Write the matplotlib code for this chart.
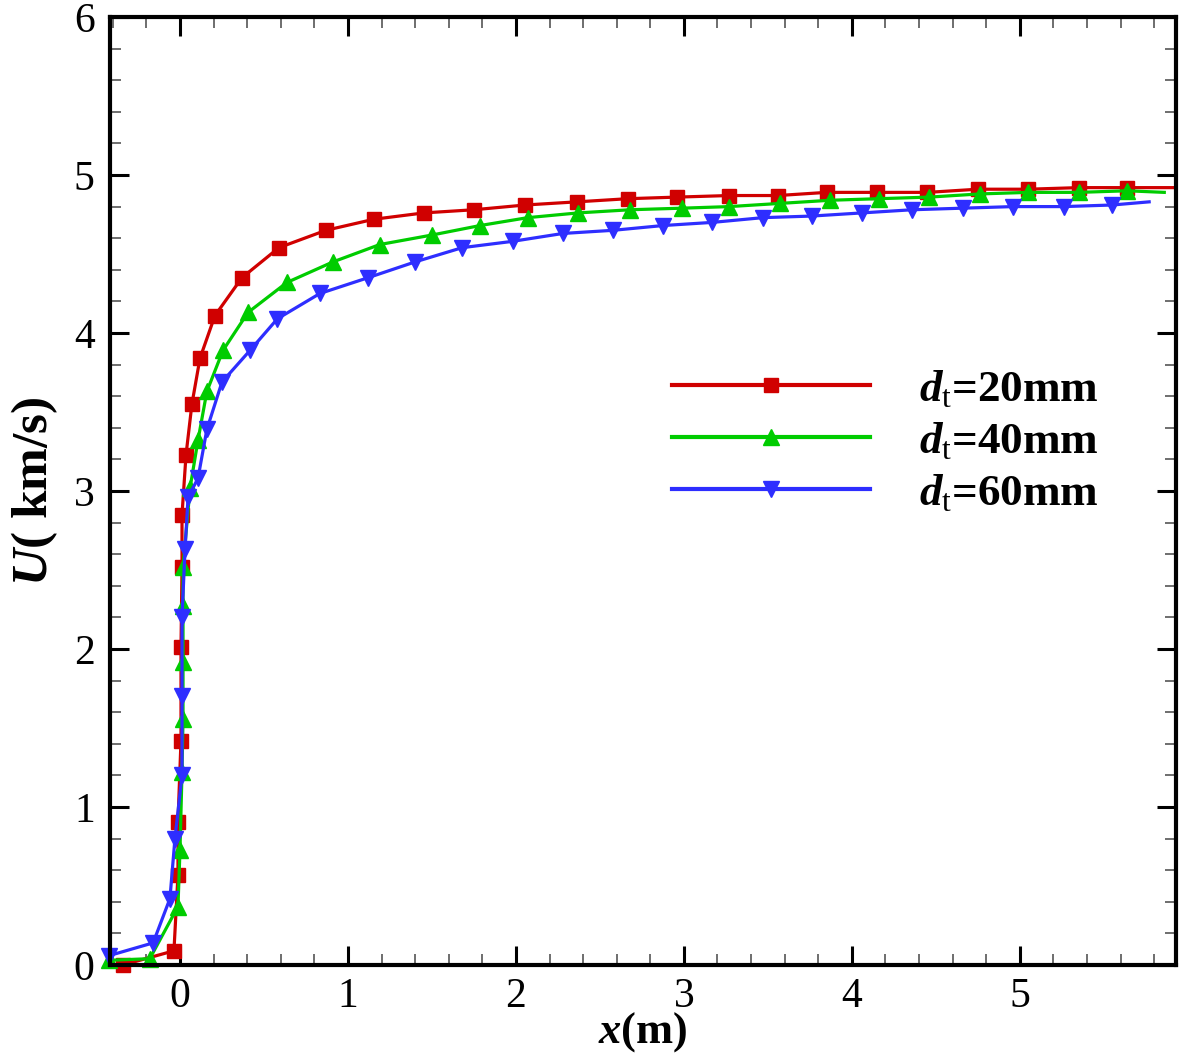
import matplotlib
matplotlib.use("Agg")
import matplotlib.pyplot as plt
from matplotlib.ticker import MultipleLocator

plt.rcParams['font.family'] = 'Liberation Serif'
plt.rcParams['mathtext.fontset'] = 'custom'
plt.rcParams['mathtext.rm'] = 'Liberation Serif'
plt.rcParams['mathtext.it'] = 'Liberation Serif:italic:bold'
plt.rcParams['mathtext.bf'] = 'Liberation Serif:bold'

# d_t = 20 mm (red squares)
x_20 = [-0.34, -0.036, -0.012, -0.012, 0.006, 0.006, 0.012, 0.012, 0.036, 0.071,
        0.119, 0.208, 0.369, 0.589, 0.869, 1.155, 1.452, 1.75, 2.054, 2.363,
        2.667, 2.958, 3.27, 3.56, 3.85, 4.15, 4.45, 4.75, 5.05, 5.35, 5.64, 5.93]
u_20 = [0.0, 0.09, 0.57, 0.905, 1.42, 2.01, 2.52, 2.85, 3.23, 3.55,
        3.84, 4.11, 4.35, 4.54, 4.65, 4.72, 4.76, 4.78, 4.81, 4.83,
        4.85, 4.86, 4.87, 4.87, 4.89, 4.89, 4.89, 4.91, 4.91, 4.92, 4.92, 4.92]

# d_t = 40 mm (green triangles)
x_40 = [-0.42, -0.18, -0.012, 0.0, 0.012, 0.018, 0.018, 0.018, 0.018, 0.06,
        0.107, 0.16, 0.256, 0.405, 0.637, 0.911, 1.19, 1.5, 1.786, 2.07,
        2.37, 2.68, 2.99, 3.27, 3.57, 3.87, 4.16, 4.46, 4.76, 5.05, 5.35, 5.64, 5.86]
u_40 = [0.03, 0.04, 0.37, 0.73, 1.22, 1.56, 1.92, 2.27, 2.52, 3.02,
        3.32, 3.63, 3.89, 4.13, 4.32, 4.45, 4.56, 4.62, 4.68, 4.73,
        4.76, 4.78, 4.79, 4.80, 4.82, 4.84, 4.85, 4.86, 4.88, 4.89, 4.89, 4.90, 4.89]

# d_t = 60 mm (blue down-triangles)
x_60 = [-0.42, -0.16, -0.06, -0.03, 0.012, 0.012, 0.012, 0.03, 0.048, 0.107,
        0.16, 0.25, 0.417, 0.58, 0.833, 1.12, 1.4, 1.68, 1.98, 2.28,
        2.58, 2.875, 3.17, 3.47, 3.76, 4.06, 4.36, 4.66, 4.96, 5.26, 5.55, 5.77]
u_60 = [0.06, 0.14, 0.42, 0.80, 1.20, 1.70, 2.20, 2.63, 2.96, 3.08,
        3.39, 3.69, 3.89, 4.09, 4.25, 4.35, 4.45, 4.54, 4.58, 4.63,
        4.65, 4.68, 4.70, 4.73, 4.74, 4.76, 4.78, 4.79, 4.80, 4.80, 4.81, 4.83]

labels = [r'$d_{\mathrm{t}}$=20mm', r'$d_{\mathrm{t}}$=40mm', r'$d_{\mathrm{t}}$=60mm']

fig = plt.figure(figsize=(11.81, 10.55), dpi=100)
ax = fig.add_axes([0.0931, 0.0853, 0.9027, 0.8986])

ax.plot(x_20, u_20, color='#d00000', lw=2.3, marker='s', ms=10.5,
        markevery=slice(0, -1), clip_on=False, label=labels[0])
ax.plot(x_40, u_40, color='#00cc00', lw=2.3, marker='^', ms=11.5,
        markevery=slice(0, -1), clip_on=False, label=labels[1])
ax.plot(x_60, u_60, color='#2e2eff', lw=2.3, marker='v', ms=11.5,
        markevery=slice(0, -1), clip_on=False, label=labels[2])

ax.set_xlim(-0.417, 5.93)
ax.set_ylim(0, 6)
ax.xaxis.set_major_locator(MultipleLocator(1))
ax.xaxis.set_minor_locator(MultipleLocator(0.2))
ax.yaxis.set_major_locator(MultipleLocator(1))
ax.yaxis.set_minor_locator(MultipleLocator(0.2))
ax.tick_params(which='both', direction='in', top=True, right=True)
ax.tick_params(which='major', length=14, width=2.2, labelsize=30, pad=11)
ax.tick_params(axis='x', which='major', pad=9)
ax.tick_params(which='minor', length=8, width=1.2, color='#555555')
for s in ax.spines.values():
    s.set_linewidth(3)

ax.set_xlabel(r'$x$(m)', fontsize=32, fontweight='bold', labelpad=-4)
ax.set_ylabel(r'$U$( km/s)', fontsize=37, fontweight='bold', labelpad=10)

leg = ax.legend(loc='upper left', bbox_to_anchor=(0.527, 0.629), frameon=False,
                prop={'size': 32.5, 'weight': 'bold'}, handlelength=4.4,
                handletextpad=1.08, labelspacing=0.25, borderpad=0,
                borderaxespad=0, numpoints=1)
for h in leg.legend_handles:
    h.set_linewidth(3)

fig.savefig("out.png", dpi=100)
